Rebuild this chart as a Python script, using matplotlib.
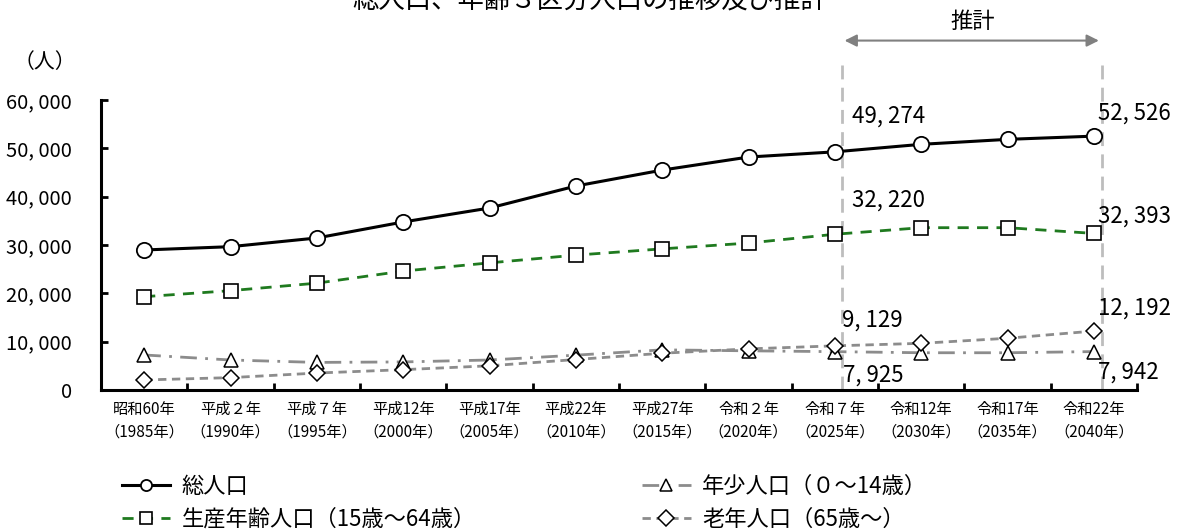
import matplotlib
matplotlib.use("Agg")
import matplotlib.pyplot as plt
from matplotlib.ticker import FuncFormatter, FixedLocator

plt.rcParams['font.family'] = ['Noto Sans CJK JP', 'DejaVu Sans']

# data
years = ["昭和60年\n（1985年）", "平成２年\n（1990年）", "平成７年\n（1995年）", "平成12年\n（2000年）",
         "平成17年\n（2005年）", "平成22年\n（2010年）", "平成27年\n（2015年）", "令和２年\n（2020年）",
         "令和７年\n（2025年）", "令和12年\n（2030年）", "令和17年\n（2035年）", "令和22年\n（2040年）"]
total = [28966, 29650, 31450, 34760, 37650, 42200, 45500, 48200, 49274, 50830, 51860, 52526]
working = [19300, 20550, 22100, 24600, 26300, 27900, 29200, 30400, 32220, 33580, 33580, 32393]
young = [7240, 6200, 5700, 5800, 6200, 7200, 8300, 8100, 7925, 7700, 7700, 7942]
old = [2070, 2550, 3500, 4200, 5000, 6300, 7600, 8500, 9129, 9650, 10700, 12192]

names = ["総人口", "生産年齢人口（15歳～64歳）", "年少人口（０～14歳）", "老年人口（65歳～）"]

fig = plt.figure(figsize=(11.8, 5.32), dpi=100)
ax = fig.add_axes([0.0856, 0.267, 0.878, 0.545])

x = list(range(len(years)))
green = "#1f7a1f"
gray = "#8c8c8c"

l1, = ax.plot(x, total, color="black", lw=2.2, marker="o", ms=11, mfc="white", mec="black", mew=1.3, label=names[0])
l2, = ax.plot(x, working, color=green, lw=2, ls=(0, (4, 3)), marker="s", ms=10, mfc="white", mec="black", mew=1.2, label=names[1])
l3, = ax.plot(x, young, color=gray, lw=2, ls=(0, (6, 3, 1, 3)), marker="^", ms=10, mfc="white", mec="black", mew=1.1, label=names[2])
l4, = ax.plot(x, old, color=gray, lw=2, ls=(0, (3, 2)), marker="D", ms=8, mfc="white", mec="black", mew=1.1, label=names[3])

ax.set_xlim(-0.5, len(years) - 0.5)
ax.set_ylim(0, 60000)
ax.set_xticks(x)
ax.set_xticklabels(years, fontsize=11, linespacing=1.4)
ax.xaxis.set_minor_locator(FixedLocator([i + 0.5 for i in range(len(years) - 1)] + [len(years) - 0.5]))
ax.tick_params(axis="x", which="major", length=0, pad=8)
ax.tick_params(axis="x", which="minor", direction="in", length=5, width=2)
ax.set_yticks(range(0, 60001, 10000))
ax.yaxis.set_major_formatter(FuncFormatter(lambda v, p: f"{int(v):,}".replace(",", ", ")))
ax.tick_params(axis="y", direction="in", length=5, width=2, labelsize=14.5, pad=21)
ax.spines["top"].set_visible(False)
ax.spines["right"].set_visible(False)
ax.spines["left"].set_linewidth(2.2)
ax.spines["bottom"].set_linewidth(2.2)

# projection markers
for xi in [8.08, 11.09]:
    ax.plot([xi, xi], [0, 1.13], transform=ax.get_xaxis_transform(), color="#bdbdbd", lw=2,
            ls=(0, (5, 3)), clip_on=False, zorder=0)
ax.annotate("", xy=(8.08, 1.205), xytext=(11.09, 1.205), xycoords=ax.get_xaxis_transform(),
            arrowprops=dict(arrowstyle="<|-|>", color="#808080", lw=1.5, mutation_scale=18))
ax.text(9.6, 1.27, "推計", transform=ax.get_xaxis_transform(), ha="center", va="center", fontsize=16)

# value labels
labels = [(total, 8, 17, 36), (total, 11, 4, 23), (working, 8, 17, 34), (working, 11, 4, 17),
          (old, 8, 7, 26), (old, 11, 4, 23), (young, 8, 8, -23), (young, 11, 4, -21)]
for series, i, dx, dy in labels:
    ax.annotate(f"{series[i]:,}".replace(",", ", "), (i, series[i]), xytext=(dx, dy),
                textcoords="offset pixels", ha="left", va="center", fontsize=16)

fig.text(0.5, 1.0, "総人口、年齢３区分人口の推移及び推計", ha="center", va="center", fontsize=19)
fig.text(0.038, 0.883, "（人）", ha="center", va="center", fontsize=15)

legend_kw = dict(loc="upper left", frameon=False, fontsize=16, handlelength=2.2, handletextpad=0.5,
                 labelspacing=0.45, borderaxespad=0, borderpad=0)
leg1 = fig.legend(handles=[l1, l2], bbox_to_anchor=(0.103, 0.108), **legend_kw)
leg2 = fig.legend(handles=[l3, l4], bbox_to_anchor=(0.544, 0.108), **legend_kw)
for leg in (leg1, leg2):
    for h in leg.legend_handles:
        h.set_markersize(8)

fig.savefig("out.png", dpi=100)
